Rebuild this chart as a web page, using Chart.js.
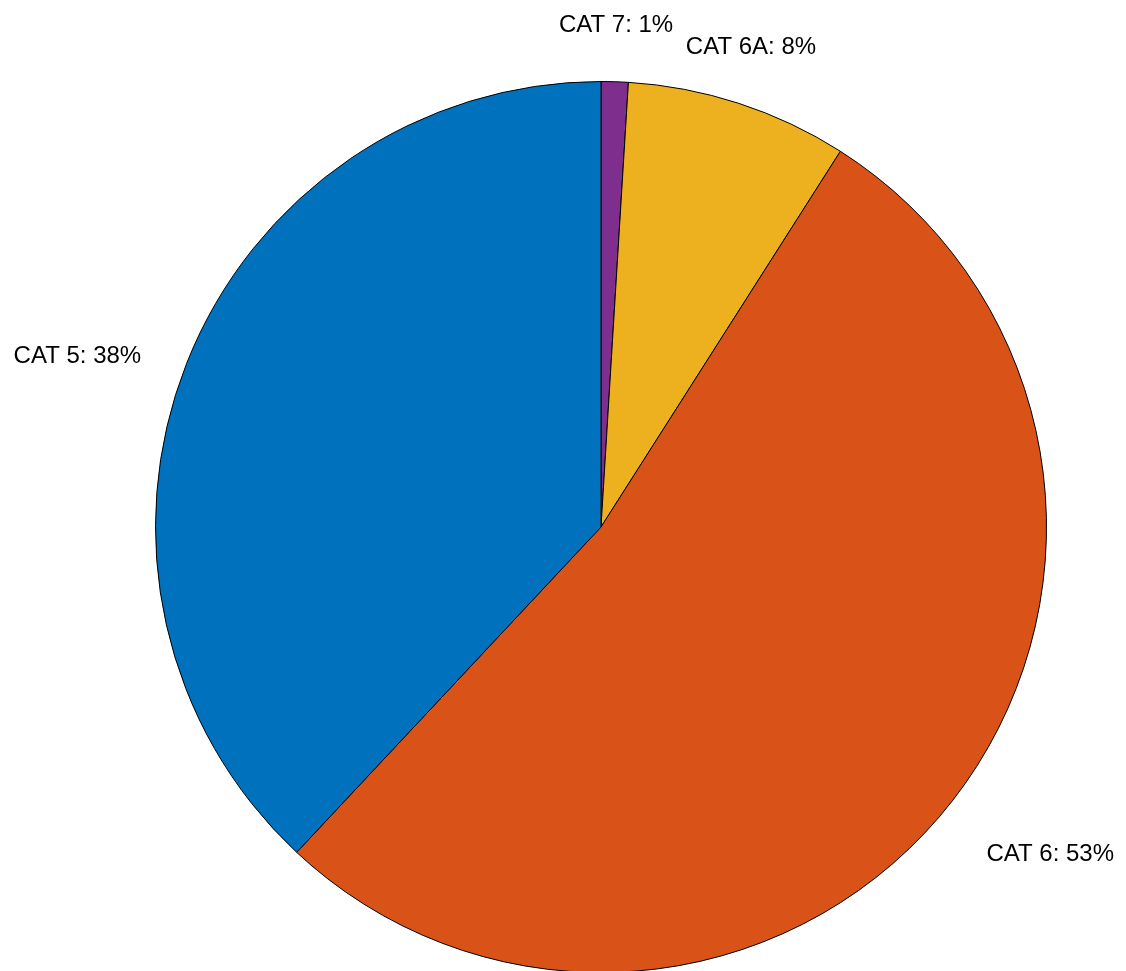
<!DOCTYPE html>
<html>
<head>
<meta charset="utf-8">
<script src="https://cdn.jsdelivr.net/npm/chart.js@4/dist/chart.umd.min.js"></script>
<style>
  html, body { margin: 0; padding: 0; background: #fff; overflow: hidden; }
  #wrap { position: relative; width: 1126px; height: 975px; }
</style>
</head>
<body>
<div id="wrap"><canvas id="pie"></canvas></div>
<script>
// slices listed clockwise from 12 o'clock
const categories = ['CAT 7', 'CAT 6A', 'CAT 6', 'CAT 5'];
const shares = [0.98, 8.05, 52.94, 38.03];
const pctLabels = ['1%', '8%', '53%', '38%'];
const colors = ['#7E2F8E', '#EDB120', '#D95319', '#0072BD'];

// label placement: alignment + nudge (px) from the point at 1.1 x radius
const labelAlign = ['center', 'center', 'left', 'right'];
const labelNudge = [[0, -5.6], [-1.6, -7.4], [-1.8, 34], [-4, 15.6]];

const pieLabels = {
  id: 'pieLabels',
  afterDatasetsDraw(chart) {
    const ctx = chart.ctx;
    const meta = chart.getDatasetMeta(0);
    ctx.save();
    ctx.font = '24px "Liberation Sans", Arial, sans-serif';
    ctx.fillStyle = '#000';
    ctx.textBaseline = 'alphabetic';
    meta.data.forEach((arc, i) => {
      const p = arc.getProps(['x', 'y', 'startAngle', 'endAngle', 'outerRadius'], true);
      const mid = (p.startAngle + p.endAngle) / 2;
      const r = p.outerRadius * 1.1;
      const ax = p.x + Math.cos(mid) * r;
      const ay = p.y + Math.sin(mid) * r;
      ctx.textAlign = labelAlign[i];
      ctx.fillText(categories[i] + ': ' + pctLabels[i], ax + labelNudge[i][0], ay + labelNudge[i][1]);
    });
    ctx.restore();
  }
};

new Chart(document.getElementById('pie').getContext('2d'), {
  type: 'pie',
  data: {
    labels: categories,
    datasets: [{
      data: shares,
      backgroundColor: colors,
      borderColor: '#000',
      borderWidth: 1,
      borderAlign: 'center'
    }]
  },
  options: {
    responsive: true,
    maintainAspectRatio: false,
    animation: false,
    layout: { padding: { left: 155, right: 79, top: 81, bottom: 2 } },
    plugins: {
      legend: { display: false },
      tooltip: { enabled: false }
    }
  },
  plugins: [pieLabels]
});
</script>
</body>
</html>
